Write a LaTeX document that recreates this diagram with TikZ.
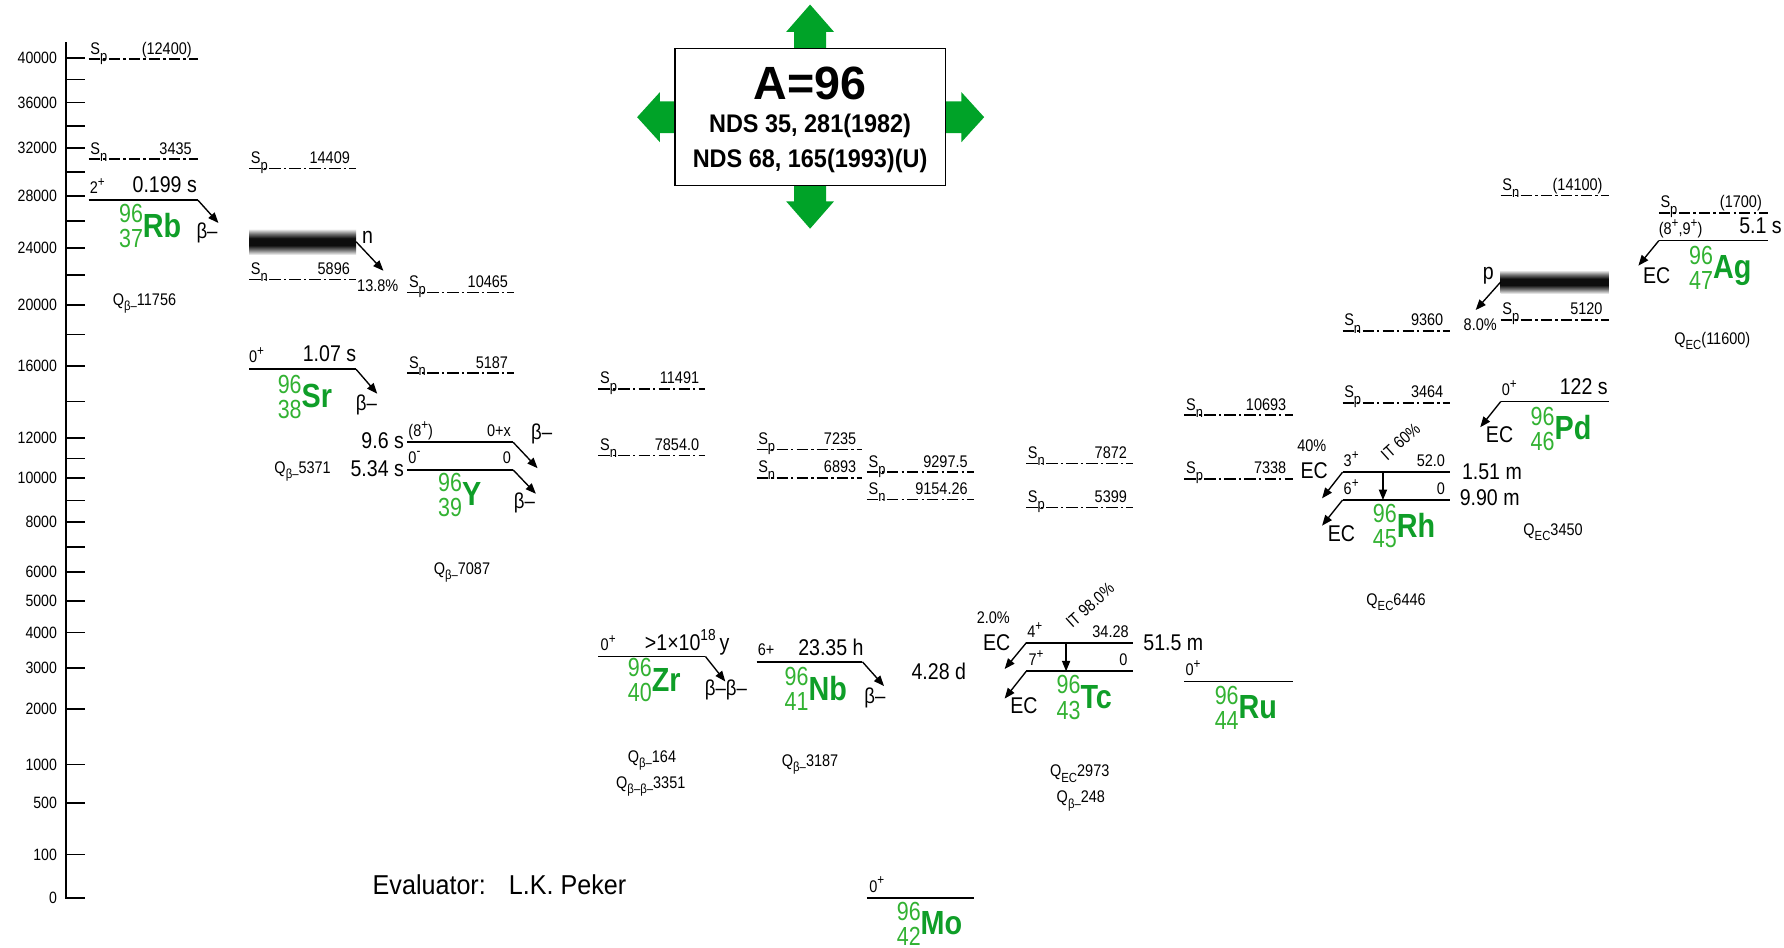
\documentclass[tikz,border=0pt]{standalone}
\usepackage{fontspec}
\setmainfont{Liberation Sans}[FakeStretch=0.86]
\newfontfamily\plainsans{Liberation Sans}
\newfontfamily\midsans{Liberation Sans}[FakeStretch=0.92]
\newfontfamily\numsans{Liberation Sans}[FakeStretch=0.82]
\usetikzlibrary{arrows.meta}
\definecolor{numgreen}{RGB}{50,178,50}
\definecolor{symgreen}{RGB}{15,158,40}
\definecolor{arrgreen}{RGB}{0,163,40}
\pgfdeclareverticalshading{bandsh}{100bp}{color(0bp)=(black!5); color(25bp)=(black!8); color(34bp)=(black!55); color(43bp)=(black!95); color(57bp)=(black!95); color(66bp)=(black!55); color(75bp)=(black!6); color(100bp)=(black!5)}
\newcommand\upp[1]{\raisebox{0.42em}{\fontsize{6}{6}\selectfont #1}}
\newcommand\dnn[1]{\raisebox{-0.3em}{\fontsize{5.8}{5.8}\selectfont #1}}
\newcommand\sdn[1]{\raisebox{-0.42em}{\fontsize{6.6}{6.6}\selectfont #1}}
\newcommand\nuc[3]{\raisebox{0.3pt}{\numsans\fontsize{11.5}{10.3}\selectfont\color{numgreen}\begin{tabular}{@{}r@{}}#1\\#2\end{tabular}}{\fontsize{14.7}{15}\selectfont\bfseries\color{symgreen}#3}}
\newcommand\nucnode[6]{\node[anchor=base] (#1) at (#2,#3+10.5) {\nuc{#4}{#5}{#6}};}
\newcommand\sline[6]{%
  \draw[sepl] (#4,#6) coordinate (#1a) -- (#5,#6) coordinate (#1b);
  \node[slab,anchor=base west] (#1s) at (#4+1.5,#6-4.5) {S\sdn{#2}};
  \node[slab,anchor=base east] (#1v) at (#5-5.5,#6-4.5) {#3};}
\newcommand\lvl[4]{\draw[lev] (#2,#4) coordinate (#1l) -- (#3,#4) coordinate (#1r);}
\tikzset{
  every node/.style={inner sep=0pt, outer sep=0pt},
  lev/.style={line width=0.75pt},
  sepl/.style={line width=0.7pt, dash pattern=on 5pt off 1.4pt on 1pt off 1.4pt},
  dec/.style={line width=0.6pt, -{Triangle[length=4.6pt,width=3.6pt]}},
  axl/.style={line width=0.75pt},
  axlab/.style={font=\fontsize{7.2}{8}\selectfont},
  slab/.style={font=\fontsize{7.4}{8}\selectfont},
  spinl/.style={font=\fontsize{7.4}{8}\selectfont},
  hl/.style={font=\fontsize{10}{11}\selectfont},
  bet/.style={font=\fontsize{9.5}{10}\selectfont},
  ecl/.style={font=\fontsize{10}{11}\selectfont},
  pct/.style={font=\fontsize{7.4}{8}\selectfont},
  qlab/.style={font=\fontsize{7.4}{8}\selectfont},
  bandbox/.style={shading=bandsh}
}
\begin{document}
\begin{tikzpicture}[x=0.5pt,y=-0.5pt]
\useasboundingbox (0,0) rectangle (1568,833);
\fill[white] (0,0) rectangle (1568,833);
% axis
\draw[axl] (58,37) -- (58,789) -- (75,789);
\foreach \y/\t in {51/40000,90/36000,130/32000,172/28000,218/24000,268/20000,322/16000,385/12000,420/10000,459/8000,503/6000,528/5000,556/4000,587/3000,623/2000,672/1000,706/500,751/100}{
  \draw[axl] (58,\y) -- (75,\y);
  \node[axlab,anchor=east] (ax\t) at (50,\y) {\t};}
\node[axlab,anchor=east] (ax0) at (50,789) {0};
\foreach \y in {70,111,151,194,242,294,353,403,440,481}{\draw[axl] (58,\y) -- (75,\y);}
% title
\fill[arrgreen] (698,50) -- (698,28) -- (691,28) -- (712,4) -- (733,28) -- (726,28) -- (726,50) -- cycle;
\fill[arrgreen] (698,156) -- (698,177) -- (691,177) -- (712,201) -- (733,177) -- (726,177) -- (726,156) -- cycle;
\fill[arrgreen] (600,89) -- (580,89) -- (580,81) -- (560,103) -- (580,125) -- (580,117) -- (600,117) -- cycle;
\fill[arrgreen] (824,89) -- (845,89) -- (845,81) -- (865,103) -- (845,125) -- (845,117) -- (824,117) -- cycle;
\node[draw, line width=0.6pt, fill=white, minimum width=118.8pt, minimum height=60.2pt] (tbox) at (712,102.8) {};
\node (ta) at (712,73.5) {\plainsans\bfseries\fontsize{20.5}{22}\selectfont A=96};
\node (tn1) at (712,111) {\midsans\bfseries\fontsize{11.2}{12}\selectfont NDS 35, 281(1982)};
\node (tn2) at (712,141.5) {\midsans\bfseries\fontsize{11.2}{12}\selectfont NDS 68, 165(1993)(U)};
% evaluator
\node[anchor=west] (ev1) at (327.6,778) {\midsans\fontsize{12}{13}\selectfont Evaluator:};
\node[anchor=west] (ev2) at (447.3,778) {\midsans\fontsize{12}{13}\selectfont L.K. Peker};
% separation energies
\sline{rbp}{p}{(12400)}{78}{174}{52}
\sline{rbn}{n}{3435}{78}{174}{140}
\sline{srp}{p}{14409}{219}{313}{148}
\sline{srn}{n}{5896}{219}{313}{245.5}
\sline{yp}{p}{10465}{358}{452}{257}
\sline{yn}{n}{5187}{358}{452}{328}
\sline{zrp}{p}{11491}{526}{620}{342}
\sline{zrn}{n}{7854.0}{526}{620}{400.5}
\sline{nbp}{p}{7235}{665}{758}{395}
\sline{nbn}{n}{6893}{665}{758}{420}
\sline{mop}{p}{9297.5}{762}{856}{415}
\sline{mon}{n}{9154.26}{762}{856}{439}
\sline{tcn}{n}{7872}{902}{996}{407.5}
\sline{tcp}{p}{5399}{902}{996}{446}
\sline{run}{n}{10693}{1041}{1136}{365}
\sline{rup}{p}{7338}{1041}{1136}{421}
\sline{rhn}{n}{9360}{1180}{1274}{291}
\sline{rhp}{p}{3464}{1180}{1274}{354}
\sline{pdn}{n}{(14100)}{1319}{1414}{172}
\sline{pdp}{p}{5120}{1319}{1414}{281}
\sline{agp}{p}{(1700)}{1458}{1554}{187}
% levels
\lvl{rb}{78}{174}{176}
\lvl{sr}{219}{313}{324.6}
\lvl{ym}{358}{451}{388.7}
\lvl{yg}{358}{451}{413}
\lvl{zr}{526}{620}{577}
\lvl{nb}{665}{758}{581.7}
\lvl{mo}{762}{856}{789}
\lvl{tcm}{902}{996}{565}
\lvl{tcg}{902}{996}{590}
\lvl{ru}{1041}{1136}{599}
\lvl{rhm}{1180}{1274}{415}
\lvl{rhg}{1180}{1274}{439.5}
\lvl{pd}{1319}{1414}{353}
\lvl{ag}{1458}{1554}{211.5}
% bands
\node[bandbox, minimum width=47pt, minimum height=11pt] (srband) at (266,212.5) {};
\node[bandbox, minimum width=47.5pt, minimum height=10pt] (pdband) at (1366.5,247.8) {};
% decay arrows
\coordinate (rbt) at (192,196); \draw[dec] (rbr) -- (rbt);
\coordinate (srt) at (331.5,346); \draw[dec] (srr) -- (srt);
\coordinate (srbt) at (337,238); \draw[dec] (srband.east) -- (srbt);
\coordinate (ymt) at (472.5,411.5); \draw[dec] (ymr) -- (ymt);
\coordinate (ygt) at (471,434); \draw[dec] (ygr) -- (ygt);
\coordinate (zrt) at (637.5,599); \draw[dec] (zrr) -- (zrt);
\coordinate (nbt) at (777,603); \draw[dec] (nbr) -- (nbt);
\coordinate (tcmt) at (883,588); \draw[dec] (tcml) -- (tcmt);
\coordinate (tcgt) at (883,614); \draw[dec] (tcgl) -- (tcgt);
\coordinate (tcia) at (937,565); \coordinate (tcib) at (937,590); \draw[dec] (tcia) -- (tcib);
\coordinate (rhmt) at (1162,438); \draw[dec] (rhml) -- (rhmt);
\coordinate (rhgt) at (1162,462); \draw[dec] (rhgl) -- (rhgt);
\coordinate (rhia) at (1215.5,415); \coordinate (rhib) at (1215.5,439.5); \draw[dec] (rhia) -- (rhib);
\coordinate (pdbt) at (1297,272.5); \draw[dec] (pdband.west) -- (pdbt);
\coordinate (pdt) at (1301,375.5); \draw[dec] (pdl) -- (pdt);
\coordinate (agt) at (1440,233.5); \draw[dec] (agl) -- (agt);
% nuclide labels
\nucnode{nrb}{132}{198}{96}{37}{Rb}
\nucnode{nsr}{268}{348}{96}{38}{Sr}
\nucnode{ny}{404}{434}{96}{39}{Y}
\nucnode{nzr}{575}{597}{96}{40}{Zr}
\nucnode{nnb}{717}{605}{96}{41}{Nb}
\nucnode{nmo}{817}{811}{96}{42}{Mo}
\nucnode{ntc}{953}{612}{96}{43}{Tc}
\nucnode{nru}{1095}{621}{96}{44}{Ru}
\nucnode{nrh}{1234}{461.5}{96}{45}{Rh}
\nucnode{npd}{1372}{376}{96}{46}{Pd}
\nucnode{nag}{1512}{234.5}{96}{47}{Ag}
% spins and half-lives
\node[spinl,anchor=base west] (rbj) at (79,170) {2\upp{+}};
\node[hl,anchor=base east] (rbh) at (173,169) {0.199 s};
\node[spinl,anchor=base west] (srj) at (219,319) {0\upp{+}};
\node[hl,anchor=base east] (srh) at (313,318) {1.07 s};
\node[spinl,anchor=base west] (ymj) at (359,383.5) {(8\upp{+})};
\node[spinl,anchor=base east] (yme) at (449,383.5) {0+x};
\node[hl,anchor=east] (ymh) at (355,387) {9.6 s};
\node[spinl,anchor=base west] (ygj) at (359,407) {0\upp{-}};
\node[spinl,anchor=base east] (yge) at (449,407) {0};
\node[hl,anchor=east] (ygh) at (355,411.5) {5.34 s};
\node[spinl,anchor=base west] (zrj) at (528,572) {0\upp{+}};
\node[hl,anchor=base east] (zrh) at (641,571.5) {>1×10\raisebox{0.42em}{\fontsize{7}{7}\selectfont 18}\,y};
\node[spinl,anchor=base west] (nbj) at (666,576.5) {6+};
\node[hl,anchor=base east] (nbh) at (759,576) {23.35 h};
\node[hl,anchor=east] (tch) at (849,590) {4.28 d};
\node[spinl,anchor=base west] (moj) at (764,784) {0\upp{+}};
\node[spinl,anchor=base west] (tcmj) at (903,560) {4\upp{+}};
\node[spinl,anchor=base east] (tcme) at (992,560) {34.28};
\node[spinl,anchor=base west] (tcgj) at (904,585) {7\upp{+}};
\node[spinl,anchor=base east] (tcge) at (991,585) {0};
\node[hl,anchor=west] (tcmh) at (1005,565) {51.5 m};
\node[spinl,anchor=base west] (ruj) at (1042,594) {0\upp{+}};
\node[spinl,anchor=base west] (rhmj) at (1181,410) {3\upp{+}};
\node[spinl,anchor=base east] (rhme) at (1270,410) {52.0};
\node[spinl,anchor=base west] (rhgj) at (1181,434.5) {6\upp{+}};
\node[spinl,anchor=base east] (rhge) at (1270,434.5) {0};
\node[hl,anchor=west] (rhmh) at (1285,415) {1.51 m};
\node[hl,anchor=west] (rhgh) at (1283,437) {9.90 m};
\node[spinl,anchor=base west] (pdj) at (1320,348) {0\upp{+}};
\node[hl,anchor=base east] (pdh) at (1413,347) {122 s};
\node[spinl,anchor=base west] (agj) at (1458,206) {(8\upp{+},9\upp{+})};
\node[hl,anchor=base east] (agh) at (1566,205) {5.1 s};
% decay mode labels
\node[bet] (rbb) at (182,205) {β–};
\node[bet] (srb) at (322,356) {β–};
\node[bet] (ymb) at (476,381) {β–};
\node[bet] (ygb) at (461,442) {β–};
\node[bet] (zrb) at (638,606) {β–β–};
\node[bet] (nbb) at (769,613) {β–};
\node[hl] (srn) at (323,209) {n};
\node[pct] (srpc) at (332,251) {13.8\%};
\node[hl] (pdpp) at (1308,242) {p};
\node[pct] (pdpc) at (1301,285) {8.0\%};
\node[pct] (tcpc) at (873,543) {2.0\%};
\node[ecl] (tcme1) at (876,565) {EC};
\node[ecl] (tcge1) at (900,620) {EC};
\node[pct,rotate=42] (tcit) at (958,532) {IT 98.0\%};
\node[pct] (rhpc) at (1153,392) {40\%};
\node[ecl] (rhme1) at (1155,414) {EC};
\node[ecl] (rhge1) at (1179,469) {EC};
\node[pct,rotate=42] (rhit) at (1231,388) {IT 60\%};
\node[ecl] (pde1) at (1318,382) {EC};
\node[ecl] (age1) at (1456,242) {EC};
% Q values
\node[qlab] (rbq) at (127,267) {Q\dnn{β–}11756};
\node[qlab] (srq) at (266,414.6) {Q\dnn{β–}5371};
\node[qlab] (yq) at (406,503) {Q\dnn{β–}7087};
\node[qlab] (zrq1) at (573,668) {Q\dnn{β–}164};
\node[qlab] (zrq2) at (572,691.5) {Q\dnn{β–β–}3351};
\node[qlab] (nbq) at (712,672) {Q\dnn{β–}3187};
\node[qlab] (tcq1) at (949,680) {Q\dnn{EC}2973};
\node[qlab] (tcq2) at (950,704) {Q\dnn{β–}248};
\node[qlab] (rhq) at (1227,529) {Q\dnn{EC}6446};
\node[qlab] (pdq) at (1365,467.5) {Q\dnn{EC}3450};
\node[qlab] (agq) at (1505,300) {Q\dnn{EC}(11600)};
\end{tikzpicture}
\end{document}
